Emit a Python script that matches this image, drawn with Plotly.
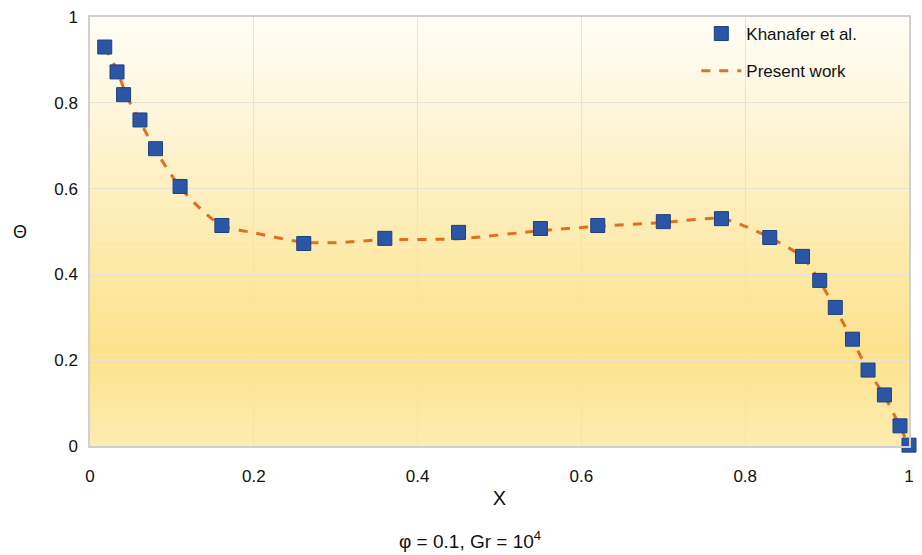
import plotly.graph_objects as go

# Khanafer et al. (markers)
kh_x = [0.018, 0.033, 0.041, 0.061, 0.080, 0.110, 0.161, 0.261, 0.360, 0.450, 0.550,
        0.620, 0.700, 0.771, 0.830, 0.870, 0.891, 0.910, 0.931, 0.950, 0.970, 0.989, 1.0]
kh_y = [0.930, 0.872, 0.819, 0.760, 0.693, 0.605, 0.514, 0.472, 0.484, 0.498, 0.507,
        0.514, 0.523, 0.530, 0.486, 0.442, 0.386, 0.323, 0.249, 0.177, 0.119, 0.047, 0.002]

# Present work (dashed line)
pw_x = [0.018, 0.033, 0.045, 0.061, 0.080, 0.110, 0.135, 0.161, 0.200, 0.261, 0.300, 0.360,
        0.450, 0.550, 0.620, 0.700, 0.771, 0.800, 0.830, 0.870, 0.891, 0.910, 0.931,
        0.950, 0.970, 0.989, 1.0]
pw_y = [0.930, 0.875, 0.815, 0.757, 0.690, 0.603, 0.553, 0.514, 0.497, 0.475, 0.474, 0.481,
        0.483, 0.502, 0.512, 0.521, 0.530, 0.512, 0.486, 0.440, 0.384, 0.320, 0.247,
        0.176, 0.117, 0.045, 0.0]

x_ticks = [0, 0.2, 0.4, 0.6, 0.8, 1]
x_labels = ["0", "0.2", "0.4", "0.6", "0.8", "1"]
y_ticks = [0, 0.2, 0.4, 0.6, 0.8, 1]
y_labels = ["0", "0.2", "0.4", "0.6", "0.8", "1"]

FONT = "Liberation Sans, Arial, sans-serif"

fig = go.Figure()

# gradient background bands
stops = [(0.0, (255, 253, 246)), (0.25, (254, 245, 215)), (0.55, (253, 234, 170)),
         (0.78, (253, 226, 140)), (1.0, (253, 236, 178))]

def col(t):
    for i in range(len(stops) - 1):
        a, ca = stops[i]
        b, cb = stops[i + 1]
        if a <= t <= b:
            f = (t - a) / (b - a)
            c = [round(ca[k] + (cb[k] - ca[k]) * f) for k in range(3)]
            return "rgb(%d,%d,%d)" % tuple(c)
    return "rgb(253,236,178)"

N = 80
shapes = []
for i in range(N):
    t = (i + 0.5) / N
    shapes.append(dict(type="rect", xref="paper", yref="paper",
                       x0=0, x1=1, y0=1 - (i + 1) / N, y1=1 - i / N + 0.001,
                       fillcolor=col(t), line=dict(width=0), layer="below"))

fig.add_trace(go.Scatter(
    x=pw_x, y=pw_y, mode="lines", name="Present work", legendrank=2, legendgroup="b",
    line=dict(color="#e0701f", width=3, dash="dash", shape="spline", smoothing=0.8),
    cliponaxis=False))
fig.add_trace(go.Scatter(
    x=kh_x, y=kh_y, mode="markers", name="Khanafer et al.", legendrank=1, legendgroup="a",
    marker=dict(symbol="square", size=14, color="#2b56a6",
                line=dict(color="#1d3f80", width=1)),
    cliponaxis=False))

fig.update_layout(
    width=922, height=555,
    margin=dict(l=90, r=8, t=16, b=109),
    paper_bgcolor="white", plot_bgcolor="rgba(0,0,0,0)",
    shapes=shapes,
    font=dict(family=FONT, size=17, color="#111"),
    showlegend=True,
    legend=dict(x=(700 - 90) / 824, y=(446 - 15) / 430, xanchor="left", yanchor="top",
                bgcolor="rgba(0,0,0,0)", font=dict(size=17),
                traceorder="grouped", itemwidth=40, tracegroupgap=12),
    xaxis=dict(range=[0, 1], tickvals=x_ticks, ticktext=x_labels,
               showgrid=True, gridcolor="#e6e2d6", gridwidth=1.2,
               showline=True, linecolor="#d0d0d0", linewidth=1.5, mirror=True,
               zeroline=False, ticks="", ticklabelstandoff=14,
               title=dict(text="X", font=dict(size=20), standoff=6)),
    yaxis=dict(range=[0, 1], tickvals=y_ticks, ticktext=y_labels,
               showgrid=True, gridcolor="#e6e2d6", gridwidth=1.2,
               showline=True, linecolor="#d0d0d0", linewidth=1.5, mirror=True,
               zeroline=False, ticks="", ticklabelstandoff=7),
    annotations=[
        dict(text="Θ", x=(20 - 90) / 824, y=(446 - 232) / 430, xref="paper", yref="paper",
             xanchor="center", yanchor="middle", showarrow=False, font=dict(size=18)),
        dict(text="φ = 0.1, Gr = 10<sup>4</sup>", xref="paper", yref="paper",
             x=(472 - 90) / 824, y=(446 - 526) / 430, xanchor="center", yanchor="top",
             showarrow=False, font=dict(size=19)),
    ],
)

fig.write_html("out.html", config={"displayModeBar": False},
               post_script="document.body.style.margin='0';document.documentElement.style.overflow='hidden';")
